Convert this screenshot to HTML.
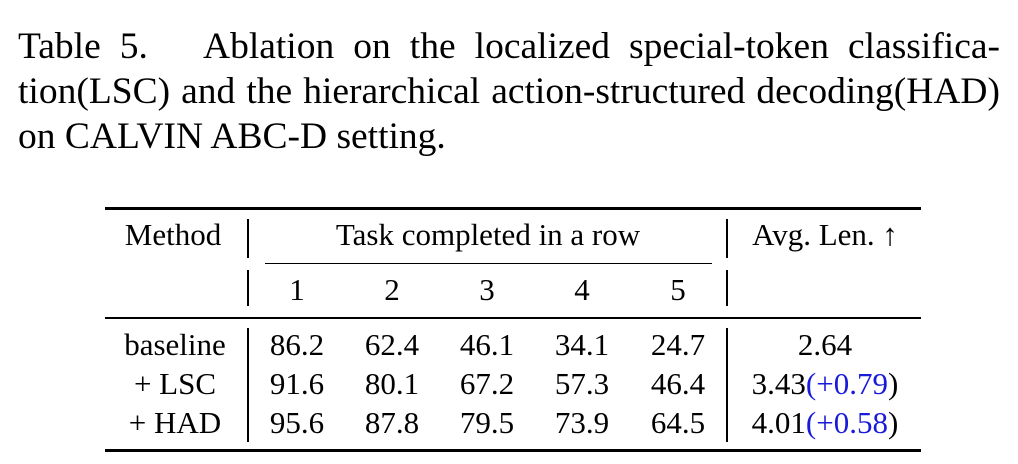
<!DOCTYPE html>
<html><head><meta charset="utf-8"><style>
body{margin:0;width:1018px;height:464px;background:#fff;position:relative;overflow:hidden;font-family:"Liberation Serif",serif;color:#000}
.cap{position:absolute;left:18px;width:982px;font-size:37.5px;line-height:40px;white-space:nowrap}
.j{text-align:justify;text-align-last:justify;white-space:normal}
.t{position:absolute;font-size:31px;line-height:31px;white-space:nowrap;transform:translateX(-50%)}
.r{position:absolute;background:#000}
.b{color:#1a1adb}
</style></head><body>
<div class="cap j" style="top:27px">Table 5.&nbsp;&nbsp; Ablation on the localized special-token classifica-</div>
<div class="cap j" style="top:72px">tion(LSC) and the hierarchical action-structured decoding(HAD)</div>
<div class="cap" style="top:117px">on CALVIN ABC-D setting.</div>

<div class="r" style="left:105px;top:207px;width:816px;height:3px"></div>
<div class="r" style="left:265px;top:263px;width:447px;height:1px"></div>
<div class="r" style="left:105px;top:317px;width:816px;height:2px"></div>
<div class="r" style="left:105px;top:449px;width:816px;height:3px"></div>

<div class="r" style="left:247px;top:219px;width:2px;height:39px"></div>
<div class="r" style="left:247px;top:270px;width:2px;height:36px"></div>
<div class="r" style="left:247px;top:328px;width:2px;height:114px"></div>
<div class="r" style="left:726px;top:219px;width:2px;height:39px"></div>
<div class="r" style="left:726px;top:270px;width:2px;height:36px"></div>
<div class="r" style="left:726px;top:328px;width:2px;height:114px"></div>

<div class="t" style="left:173px;top:219px">Method</div>
<div class="t" style="left:488px;top:219px">Task completed in a row</div>
<div class="t" style="left:825px;top:219px">Avg. Len. ↑</div>

<div class="t" style="left:297px;top:274px">1</div>
<div class="t" style="left:392px;top:274px">2</div>
<div class="t" style="left:487px;top:274px">3</div>
<div class="t" style="left:582px;top:274px">4</div>
<div class="t" style="left:678px;top:274px">5</div>

<div class="t" style="left:175px;top:329px">baseline</div>
<div class="t" style="left:297px;top:329px">86.2</div>
<div class="t" style="left:392px;top:329px">62.4</div>
<div class="t" style="left:487px;top:329px">46.1</div>
<div class="t" style="left:582px;top:329px">34.1</div>
<div class="t" style="left:678px;top:329px">24.7</div>
<div class="t" style="left:825px;top:329px">2.64</div>

<div class="t" style="left:175px;top:368px">+ LSC</div>
<div class="t" style="left:297px;top:368px">91.6</div>
<div class="t" style="left:392px;top:368px">80.1</div>
<div class="t" style="left:487px;top:368px">67.2</div>
<div class="t" style="left:582px;top:368px">57.3</div>
<div class="t" style="left:678px;top:368px">46.4</div>
<div class="t" style="left:825px;top:368px">3.43<span class="b">(+0.79</span>)</div>

<div class="t" style="left:175px;top:407px">+ HAD</div>
<div class="t" style="left:297px;top:407px">95.6</div>
<div class="t" style="left:392px;top:407px">87.8</div>
<div class="t" style="left:487px;top:407px">79.5</div>
<div class="t" style="left:582px;top:407px">73.9</div>
<div class="t" style="left:678px;top:407px">64.5</div>
<div class="t" style="left:825px;top:407px">4.01<span class="b">(+0.58</span>)</div>
</body></html>
